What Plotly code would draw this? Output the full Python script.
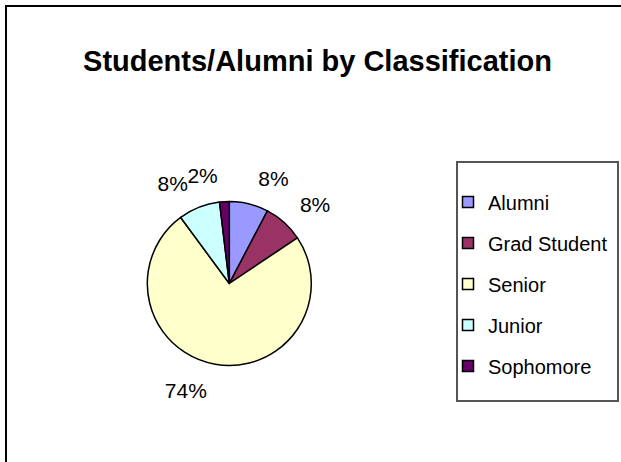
import plotly.graph_objects as go

# categories and shares (percent of students/alumni)
categorias = ['Alumni', 'Grad Student', 'Senior', 'Junior', 'Sophomore']
valores = [7.7, 7.9, 74.3, 8.2, 1.9]
cores = ['#9999FF', '#993366', '#FFFFCC', '#CCFFFF', '#660066']

W, H = 621, 462
fonte = 'Liberation Sans, Arial'

# pie centre / radius in px
cx, cy, r = 229.3, 283.5, 82
r_txt = 97  # labels sit further out, like Excel


def dominio(raio):
    return dict(x=[(cx - raio) / W, (cx + raio) / W],
                y=[1 - (cy + raio) / H, 1 - (cy - raio) / H])


fig = go.Figure()
# slices
fig.add_trace(go.Pie(
    labels=categorias, values=valores, sort=False,
    direction='clockwise', rotation=0,
    marker=dict(colors=cores, line=dict(color='black', width=1.5)),
    textposition='none',
    domain=dominio(r), showlegend=False,
))

# percent labels: transparent pies of the same data; Junior on its own so
# plotly does not push the 2% label away with a leader line
grupos = [[0, 1, 2, 4], [3]]
for grupo in grupos:
    fig.add_trace(go.Pie(
        labels=categorias, values=valores, sort=False,
        direction='clockwise', rotation=0,
        marker=dict(colors=['rgba(0,0,0,0)'] * len(cores), line=dict(width=0)),
        texttemplate='%{percent:.0%}',
        textposition=['outside' if i in grupo else 'none' for i in range(len(categorias))],
        textfont=dict(family=fonte, size=21, color='black'),
        domain=dominio(r_txt), hoverinfo='skip', showlegend=False,
    ))

# legend entries (one per slice, so spacing can be set)
for nome, cor in zip(categorias, cores):
    fig.add_trace(go.Scatter(
        x=[None], y=[None], mode='markers', name=nome,
        legendgroup=nome,
        marker=dict(symbol='square', size=11, color=cor, line=dict(color='black', width=1.5)),
    ))

fig.update_layout(
    width=W, height=H,
    margin=dict(l=0, r=0, t=0, b=0),
    paper_bgcolor='white', plot_bgcolor='rgba(0,0,0,0)',
    font=dict(family=fonte, color='black'),
    xaxis=dict(visible=False), yaxis=dict(visible=False),
    title=dict(text='<b>Students/Alumni by Classification</b>',
               x=317.5 / W, xanchor='center', y=1 - 61 / H, yanchor='middle',
               font=dict(size=29, color='black')),
    legend=dict(x=448 / W, y=1 - 182.5 / H, xanchor='left', yanchor='top',
                borderwidth=0, bgcolor='rgba(0,0,0,0)',
                font=dict(size=20, color='black'),
                tracegroupgap=12, itemclick=False),
    shapes=[
        dict(type='rect', xref='paper', yref='paper',
             x0=6 / W, x1=1 + 10 / W, y0=-10 / H, y1=1 - 6 / H,
             line=dict(color='black', width=2)),
        dict(type='rect', xref='paper', yref='paper',
             x0=457 / W, x1=618 / W, y0=1 - 401 / H, y1=1 - 162 / H,
             line=dict(color='#555555', width=2)),
    ],
)

fig.write_html('out.html', config={'displayModeBar': False},
               post_script="document.body.style.margin='0';")
